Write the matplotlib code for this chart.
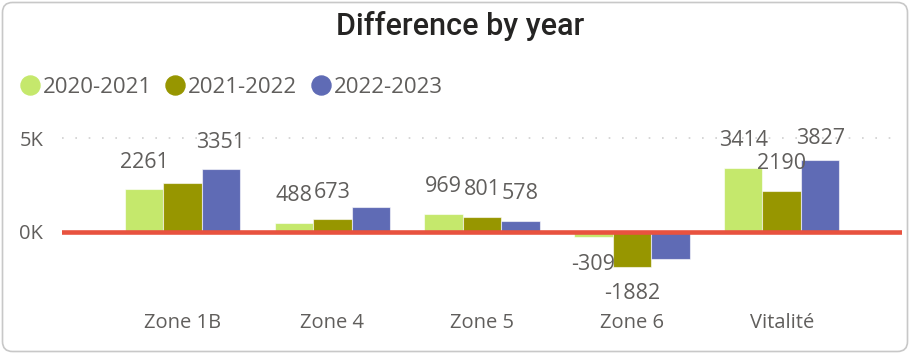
import numpy as np
import matplotlib.pyplot as plt
from matplotlib.lines import Line2D
from matplotlib.patches import FancyBboxPatch

# values per zone, one list per year pair
zones = ["Zone 1B", "Zone 4", "Zone 5", "Zone 6", "Vitalité"]
years = ["2020-2021", "2021-2022", "2022-2023"]
diff_2020_2021 = [2261, 488, 969, -309, 3414]
diff_2021_2022 = [2600, 673, 801, -1882, 2190]
diff_2022_2023 = [3351, 1310, 578, -1460, 3827]
# data labels that are actually printed (some are hidden because they overlap)
shown_2020_2021 = [True, True, True, True, True]
shown_2021_2022 = [False, True, True, True, True]
shown_2022_2023 = [True, False, True, False, True]

series = [diff_2020_2021, diff_2021_2022, diff_2022_2023]
shown = [shown_2020_2021, shown_2021_2022, shown_2022_2023]
colors = ["#C5E86C", "#979600", "#5F6BB5"]
text_grey = "#605E5C"

plt.rcParams['font.family'] = ['Open Sans', 'DejaVu Sans']

W, H = 910, 354
fig = plt.figure(figsize=(W / 100, H / 100), dpi=100)

# pixel layout of the plot area
px_left, px_right, px_top, px_bottom = 62, 902, 125, 310
zero_px, five_k_px = 231.7, 138.3
unit_px = (zero_px - five_k_px) / 5000.0

ax = fig.add_axes([px_left / W, 1 - px_bottom / H,
                   (px_right - px_left) / W, (px_bottom - px_top) / H])
ax.set_ylim(-(px_bottom - zero_px) / unit_px, (zero_px - px_top) / unit_px)

spacing = 149.8
center0 = 182.5
ax.set_xlim((px_left - center0) / spacing, (px_right - center0) / spacing)

x = np.arange(len(zones))
bar_w = 38.5 / spacing
label_gap = 27 / unit_px

for i, (vals, show, col) in enumerate(zip(series, shown, colors)):
    pos = x + (i - 1) * bar_w
    ax.bar(pos, vals, width=bar_w, color=col, edgecolor=(1, 1, 1, 0.6),
           linewidth=0.8, zorder=2)
    for xp, v, s in zip(pos, vals, show):
        if not s:
            continue
        if v >= 0:
            ly = min(v + label_gap, 5000)
        else:
            ly = v - label_gap
        ax.text(xp, ly, str(v), ha='center', va='center', fontsize=15.5,
                color=text_grey, zorder=4, clip_on=False)

# zero line and dotted 5K gridline
ax.axhline(0, color="#E8523F", linewidth=3.3, zorder=3)
ax.axhline(5000, color="#CFCFCF", linewidth=1.2, linestyle=(0, (1, 7)), zorder=1)

ax.set_yticks([0, 5000])
ax.set_yticklabels(["0K", "5K"])
ax.set_xticks(x)
ax.set_xticklabels(zones)
ax.tick_params(axis='y', length=0, pad=13.5, labelsize=14.5, labelcolor=text_grey)
ax.tick_params(axis='x', length=0, pad=2, labelsize=14.5, labelcolor=text_grey)
for sp in ax.spines.values():
    sp.set_visible(False)
ax.patch.set_alpha(0)

# title
fig.text(460 / W, 1 - 35 / H, "Difference by year", ha='center', va='baseline',
         fontsize=22, color="#252423", family='Roboto', fontweight='medium')

# legend
for name, col, cx, tx in zip(years, colors, [29.5, 175, 320.5], [43, 188, 334]):
    fig.add_artist(Line2D([cx / W], [1 - 85 / H], marker='o', markersize=13.7,
                          color=col, linestyle='none', transform=fig.transFigure))
    fig.text(tx / W, 1 - 92.7 / H, name, ha='left', va='baseline',
             fontsize=16, color=text_grey)

# card border
fig.add_artist(FancyBboxPatch((2.5, 2.5), W - 5, H - 5,
                              boxstyle="round,pad=0,rounding_size=10",
                              transform=None, facecolor='none',
                              edgecolor="#C8C8C8", linewidth=1.2))

fig.savefig("out.png", dpi=100)
